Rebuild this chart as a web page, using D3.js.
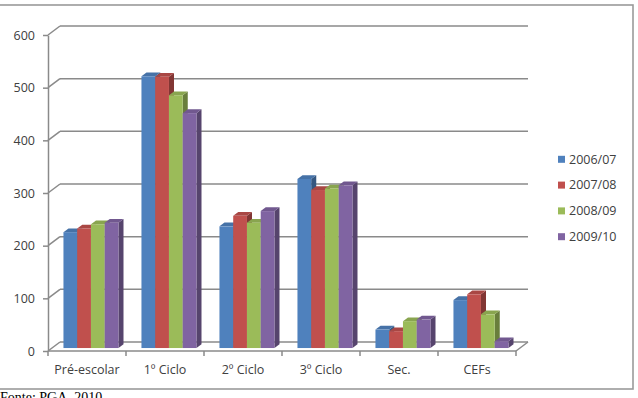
<!DOCTYPE html>
<html>
<head>
<meta charset="utf-8">
<script src="https://cdn.jsdelivr.net/npm/d3@7"></script>
<style>
  html, body { margin: 0; padding: 0; background: #ffffff; }
  svg { display: block; }
</style>
</head>
<body>
<svg id="chart" width="638" height="398"></svg>
<script>
// ---- data ----
const categories = ["Pré-escolar", "1º Ciclo", "2º Ciclo", "3º Ciclo", "Sec.", "CEFs"];
const seriesNames = ["2006/07", "2007/08", "2008/09", "2009/10"];
const values0607 = [220, 516, 231, 321, 35, 91];
const values0708 = [227, 515, 251, 300, 32, 102];
const values0809 = [235, 480, 238, 303, 51, 64];
const values0910 = [238, 446, 260, 309, 54, 13];
const yTickValues = [0, 100, 200, 300, 400, 500, 600];
const seriesColors = ["#4F81BD", "#C0504D", "#9BBB59", "#8064A2"];
const footerText = "Fonte: PGA, 2010";

const seriesValues = [values0607, values0708, values0809, values0910];

// ---- layout ----
const svg = d3.select("#chart");
const DX = 12, DY = 9;          // depth offset of back wall
const zF = 0.33, zB = 0.75;     // bar front/back depth
const textColor = "#404040";
const gridColor = "#8a8a8a";
const font = "'Open Sans', sans-serif";

const y = d3.scaleLinear().domain([0, 600]).range([351, 35]);
const x0 = d3.scaleBand().domain(categories).range([48, 516]).padding(0);
const x1 = d3.scaleBand().domain(seriesNames).range([0, x0.bandwidth()])
  .paddingInner(0).paddingOuter(0.836);

// outer frame
svg.append("rect")
  .attr("x", -3).attr("y", 5).attr("width", 636).attr("height", 384)
  .attr("fill", "none").attr("stroke", "#9a9a9a").attr("stroke-width", 1.6);

// back wall gridlines + side wall diagonals
const grid = svg.append("g").attr("stroke", gridColor).attr("stroke-width", 1.5).attr("fill", "none");
yTickValues.forEach(t => {
  const yf = y(t);
  grid.append("line").attr("x1", 48).attr("y1", yf).attr("x2", 48 + DX).attr("y2", yf - DY);
  grid.append("line").attr("x1", 48 + DX).attr("y1", yf - DY).attr("x2", 516 + DX).attr("y2", yf - DY);
});
// floor front edge and right diagonal
grid.append("line").attr("x1", 48).attr("y1", y(0)).attr("x2", 516).attr("y2", y(0));
grid.append("line").attr("x1", 516).attr("y1", y(0)).attr("x2", 516 + DX).attr("y2", y(0) - DY);

// y axis
const yAxis = svg.append("g").attr("transform", "translate(48,0)")
  .call(d3.axisLeft(y).tickValues(yTickValues).tickSize(5).tickSizeOuter(0).tickPadding(8));
yAxis.selectAll("path, line").attr("stroke", gridColor).attr("stroke-width", 1.5);
yAxis.selectAll("text").attr("fill", textColor).style("font-family", font).style("font-size", "12.5px");

// x axis labels (band centers) and boundary ticks
const xAxis = svg.append("g").attr("transform", `translate(0,${y(0)})`)
  .call(d3.axisBottom(x0).tickSize(0).tickPadding(14.6));
xAxis.select("path").remove();
xAxis.selectAll("text").attr("fill", textColor).style("font-family", font).style("font-size", "12.5px");
const bounds = categories.map(c => x0(c)).concat([x0.range()[1]]);
svg.append("g").selectAll("line").data(bounds).join("line")
  .attr("x1", d => d).attr("x2", d => d)
  .attr("y1", y(0)).attr("y2", y(0) + 5)
  .attr("stroke", gridColor).attr("stroke-width", 1.5);

// bars (3D)
const barsG = svg.append("g");
categories.forEach((c, ci) => {
  seriesNames.forEach((s, si) => {
    const v = seriesValues[si][ci];
    const col = d3.color(seriesColors[si]);
    const xl = x0(c) + x1(s);
    const w = x1.bandwidth();
    const yv = y(v), yb = y(0);
    const g = barsG.append("g");
    // side face
    g.append("polygon")
      .attr("points", [
        [xl + w + DX * zF, yv - DY * zF],
        [xl + w + DX * zB, yv - DY * zB],
        [xl + w + DX * zB, yb - DY * zB],
        [xl + w + DX * zF, yb - DY * zF]
      ].map(p => p.join(",")).join(" "))
      .attr("fill", col.darker(1.1).formatHex());
    // top face
    g.append("polygon")
      .attr("points", [
        [xl + DX * zF, yv - DY * zF],
        [xl + w + DX * zF, yv - DY * zF],
        [xl + w + DX * zB, yv - DY * zB],
        [xl + DX * zB, yv - DY * zB]
      ].map(p => p.join(",")).join(" "))
      .attr("fill", col.darker(0.35).formatHex());
    // front face
    g.append("rect")
      .attr("x", xl + DX * zF).attr("y", yv - DY * zF)
      .attr("width", w).attr("height", yb - yv)
      .attr("fill", col.formatHex());
  });
});

// legend
const legend = svg.append("g");
seriesNames.forEach((s, i) => {
  const ry = 159.3 + i * 25.8;
  legend.append("rect").attr("x", 558).attr("y", ry - 3.5).attr("width", 7).attr("height", 7)
    .attr("fill", seriesColors[i]);
  legend.append("text").attr("x", 569).attr("y", ry).attr("dy", "0.35em")
    .attr("fill", textColor).style("font-family", font).style("font-size", "12.5px")
    .text(s);
});

// footer
svg.append("text").attr("x", 0).attr("y", 402)
  .style("font-family", "'Liberation Serif', 'Times New Roman', serif").style("font-size", "14px")
  .attr("fill", "#000").text(footerText);
</script>
</body>
</html>
